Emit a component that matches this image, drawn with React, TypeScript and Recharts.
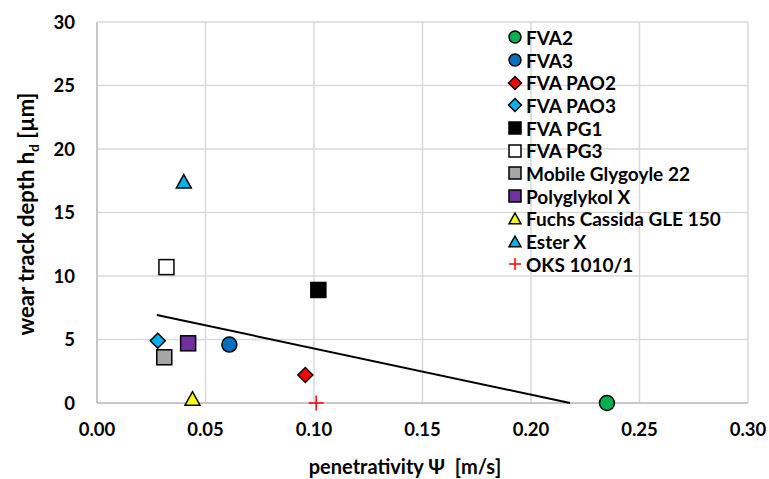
import React from "react";
import { CartesianGrid, Scatter, ScatterChart, XAxis, YAxis } from "recharts";

const FONT = "Lato, 'Open Sans', sans-serif";

const fva2 = [{ x: 0.235, y: 0 }];
const fva3 = [{ x: 0.061, y: 4.6 }];
const fvaPao2 = [{ x: 0.096, y: 2.2 }];
const fvaPao3 = [{ x: 0.028, y: 4.9 }];
const fvaPg1 = [{ x: 0.102, y: 8.9 }];
const fvaPg3 = [{ x: 0.032, y: 10.7 }];
const mobileGlygoyle = [{ x: 0.031, y: 3.6 }];
const polyglykolX = [{ x: 0.042, y: 4.7 }];
const fuchsCassida = [{ x: 0.044, y: 0.3 }];
const esterX = [{ x: 0.04, y: 17.4 }];
const oks = [{ x: 0.101, y: 0 }];
const trend = [
  { x: 0.0276, y: 6.93 },
  { x: 0.218, y: 0 },
];

const xTicks = [0, 0.05, 0.1, 0.15, 0.2, 0.25, 0.3];
const yTicks = [0, 5, 10, 15, 20, 25, 30];

type Kind = "circle" | "diamond" | "square" | "triangle" | "plus";

const series: { name: string; data: { x: number; y: number }[]; kind: Kind; fill: string }[] = [
  { name: "FVA2", data: fva2, kind: "circle", fill: "#00b050" },
  { name: "FVA3", data: fva3, kind: "circle", fill: "#0070c0" },
  { name: "FVA PAO2", data: fvaPao2, kind: "diamond", fill: "#ff0000" },
  { name: "FVA PAO3", data: fvaPao3, kind: "diamond", fill: "#00b0f0" },
  { name: "FVA PG1", data: fvaPg1, kind: "square", fill: "#000000" },
  { name: "FVA PG3", data: fvaPg3, kind: "square", fill: "#ffffff" },
  { name: "Mobile Glygoyle 22", data: mobileGlygoyle, kind: "square", fill: "#a6a6a6" },
  { name: "Polyglykol X", data: polyglykolX, kind: "square", fill: "#7030a0" },
  { name: "Fuchs Cassida GLE 150", data: fuchsCassida, kind: "triangle", fill: "#ffff00" },
  { name: "Ester X", data: esterX, kind: "triangle", fill: "#00b0f0" },
  { name: "OKS 1010/1", data: oks, kind: "plus", fill: "#ff0000" },
];

function Marker({ cx, cy, kind, fill, s }: { cx: number; cy: number; kind: Kind; fill: string; s: number }) {
  const h = s / 2;
  const st = { fill, stroke: "#000", strokeWidth: 1.5 };
  if (kind === "circle") return <circle cx={cx} cy={cy} r={h} {...st} />;
  if (kind === "square") return <rect x={cx - h} y={cy - h} width={s} height={s} {...st} />;
  if (kind === "diamond")
    return <polygon points={`${cx},${cy - h} ${cx + h},${cy} ${cx},${cy + h} ${cx - h},${cy}`} {...st} />;
  if (kind === "triangle")
    return <polygon points={`${cx},${cy - h} ${cx + h},${cy + h * 0.8} ${cx - h},${cy + h * 0.8}`} {...st} />;
  return (
    <g stroke={fill} strokeWidth={1.5}>
      <line x1={cx - h} y1={cy} x2={cx + h} y2={cy} />
      <line x1={cx} y1={cy - h} x2={cx} y2={cy + h} />
    </g>
  );
}

function LegendBox() {
  return (
    <div
      style={{
        position: "absolute",
        left: 507,
        top: 26,
        fontFamily: FONT,
        fontWeight: 700,
        fontSize: 19,
        color: "#000",
        lineHeight: 1,
      }}
    >
      {series.map((s) => (
        <div key={s.name} style={{ display: "flex", alignItems: "center", height: 22.7 }}>
          <svg width={16} height={16} style={{ marginRight: 3 }}>
            <Marker cx={8} cy={8} kind={s.kind} fill={s.fill} s={s.kind === "diamond" ? 13 : 12} />
          </svg>
          <span>{s.name}</span>
        </div>
      ))}
    </div>
  );
}

export default function App() {
  const tick = { fontFamily: FONT, fontWeight: 700, fontSize: 18.5, fill: "#000" };
  return (
    <div style={{ position: "relative", width: 769, height: 479, background: "#fff" }}>
      <style>{"body{margin:0}"}</style>
      <ScatterChart width={769} height={479} margin={{ top: 22, right: 21, bottom: 46, left: 37 }}>
        <CartesianGrid stroke="#d9d9d9" strokeWidth={1.5} />
        <XAxis
          type="number"
          dataKey="x"
          domain={[0, 0.3]}
          ticks={xTicks}
          tickFormatter={(v: number) => v.toFixed(2)}
          tick={tick}
          tickLine={false}
          tickMargin={14}
          stroke="#bfbfbf"
          strokeWidth={1.5}
          height={30}
        />
        <YAxis
          type="number"
          dataKey="y"
          domain={[0, 30]}
          ticks={yTicks}
          tick={tick}
          tickLine={false}
          tickMargin={16}
          stroke="#bfbfbf"
          strokeWidth={1.5}
          width={60}
        />
        <Scatter
          data={trend}
          line={{ stroke: "#000", strokeWidth: 2 }}
          shape={() => <g />}
          legendType="none"
          isAnimationActive={false}
        />
        {series.map((s) => (
          <Scatter
            key={s.name}
            name={s.name}
            data={s.data}
            isAnimationActive={false}
            shape={(p: any) => <Marker cx={p.cx} cy={p.cy} kind={s.kind} fill={s.fill} s={15} />}
          />
        ))}
        <text
          transform="translate(34,214) rotate(-90)"
          textAnchor="middle"
          fontFamily={FONT}
          fontWeight={700}
          fontSize={22}
          fill="#000"
        >
          wear track depth h
          <tspan fontSize={14} dy={5}>d</tspan>
          <tspan dy={-5}>{"\u00a0[µm]"}</tspan>
        </text>
        <text x={405} y={474} textAnchor="middle" fontFamily={FONT} fontWeight={700} fontSize={20} fill="#000">
          {"penetrativity Ψ\u00a0\u00a0[m/s]"}
        </text>
      </ScatterChart>
      <LegendBox />
    </div>
  );
}
